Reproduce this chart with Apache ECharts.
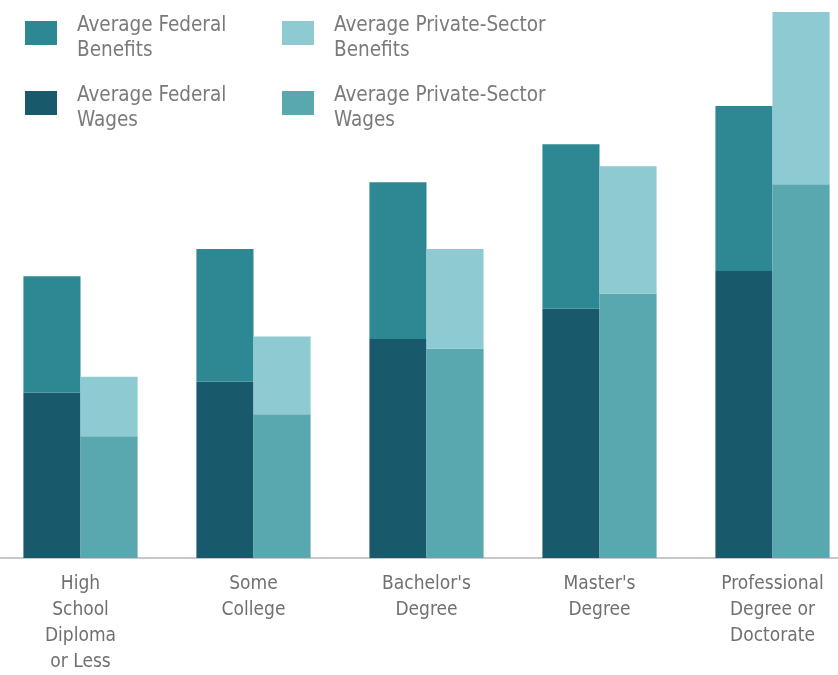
<!DOCTYPE html>
<html>
<head>
<meta charset="UTF-8">
<title>Federal vs Private compensation</title>
<script src="https://cdn.jsdelivr.net/npm/echarts@6/dist/echarts.min.js"></script>
<style>
  html, body { margin: 0; padding: 0; background: #fff; overflow: hidden; }
  /* chart is a bit wider than the window so the outer bars sit like the original */
  #chart { width: 865px; height: 675px; margin-left: -6px; }
</style>
</head>
<body>
<div id="chart"></div>
<script>
// categories
var categories = ['High\nSchool\nDiploma\nor Less', 'Some\nCollege', "Bachelor's\nDegree", "Master's\nDegree", 'Professional\nDegree or\nDoctorate'];

// average hourly compensation (approx.)
var fedWages = [25.5, 27.2, 33.8, 38.5, 44.3];
var fedBenefits = [18.0, 20.5, 24.2, 25.4, 25.5];
var privWages = [18.8, 22.2, 32.3, 40.8, 57.7];
var privBenefits = [9.2, 12.0, 15.4, 19.7, 26.6];

var colors = {
  fedBen: '#2e8894',
  fedWage: '#185a6b',
  privBen: '#8ecad1',
  privWage: '#59a8b0'
};

var legendText = {
  fontFamily: 'DejaVu Sans Condensed',
  fontSize: 20.5,
  color: '#7a7a7a',
  padding: [0, 0, 0, 15],
  rich: {
    s: { lineHeight: 10, fontSize: 4 },
    t: { lineHeight: 25, fontSize: 20.5, fontFamily: 'DejaVu Sans Condensed', color: '#7a7a7a' }
  }
};

function makeLegend(name, left, top) {
  return {
    data: [name],
    left: left,
    top: top,
    itemWidth: 32,
    itemHeight: 24,
    itemGap: 0,
    padding: 0,
    icon: 'rect',
    textStyle: legendText,
    formatter: function (n) {
      // small spacer line on top pushes the two text lines a little below the swatch centre
      var two = n.replace(' Benefits', '\nBenefits').replace(' Wages', '\nWages').split('\n');
      return '{s| }\n{t|' + two[0] + '}\n{t|' + two[1] + '}';
    },
    selectedMode: false
  };
}

var myChart = echarts.init(document.getElementById('chart'));
myChart.setOption({
  animation: false,
  legend: [
    makeLegend('Average Federal Benefits', 31, 6),
    makeLegend('Average Private-Sector Benefits', 288, 6),
    makeLegend('Average Federal Wages', 31, 76),
    makeLegend('Average Private-Sector Wages', 288, 76)
  ],
  grid: {
    left: 0,
    right: 0,
    top: 1,
    bottom: 115,
    containLabel: false
  },
  xAxis: {
    type: 'category',
    data: categories,
    axisTick: { show: false },
    axisLine: { lineStyle: { color: '#c8c8c8', width: 2 } },
    axisLabel: {
      interval: 0,
      margin: 13,
      fontFamily: 'DejaVu Sans Condensed',
      fontSize: 19,
      color: '#707070',
      lineHeight: 26
    }
  },
  yAxis: {
    type: 'value',
    min: 0,
    max: 86,
    show: false,
    splitLine: { show: false }
  },
  series: [{
    name: 'Average Federal Wages',
    type: 'bar',
    stack: 'fed',
    barCategoryGap: '34%',
    barGap: '0%',
    itemStyle: { color: colors.fedWage },
    data: fedWages
  }, {
    name: 'Average Federal Benefits',
    type: 'bar',
    stack: 'fed',
    itemStyle: { color: colors.fedBen },
    data: fedBenefits
  }, {
    name: 'Average Private-Sector Wages',
    type: 'bar',
    stack: 'priv',
    itemStyle: { color: colors.privWage },
    data: privWages
  }, {
    name: 'Average Private-Sector Benefits',
    type: 'bar',
    stack: 'priv',
    itemStyle: { color: colors.privBen },
    data: privBenefits
  }]
});
</script>
</body>
</html>
